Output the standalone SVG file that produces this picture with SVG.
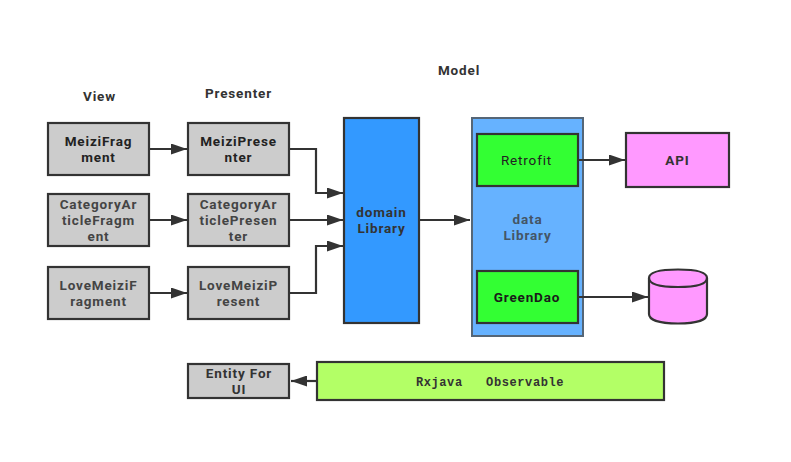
<svg xmlns="http://www.w3.org/2000/svg" width="791" height="462" viewBox="0 0 791 462">
<style>
text{font-family:Roboto,"Noto Sans",sans-serif;font-size:13.500px;font-weight:700;fill:#333;text-anchor:middle;letter-spacing:.85px}
.b{stroke:#333;stroke-width:2.200}
.g{fill:#ccc}
.c{fill:none;stroke:#333;stroke-width:2.200}
.k{fill:#222}
.m{fill:#444}
</style>
<defs><marker id="a" markerUnits="userSpaceOnUse" markerWidth="16" markerHeight="11" refX="16" refY="5.500" orient="auto"><path d="M0 0L16 5.500L0 11z" fill="#333"/></marker></defs>
<rect width="791" height="462" fill="#fff"/>
<text x="99.500" y="101">View</text>
<text x="238.500" y="98">Presenter</text>
<text x="459" y="75">Model</text>
<g id="n1"><rect class="b g" x="48" y="123" width="101" height="52"/><text class="k"><tspan x="98.500" y="146">MeiziFrag</tspan><tspan x="98.500" y="162">ment</tspan></text></g>
<g id="n2"><rect class="b g" x="188" y="123" width="101" height="52"/><text class="k"><tspan x="238.500" y="146">MeiziPrese</tspan><tspan x="238.500" y="162">nter</tspan></text></g>
<g id="n3"><rect class="b g" x="48" y="194" width="101" height="52"/><text class="m"><tspan x="98.500" y="209">CategoryAr</tspan><tspan x="98.500" y="225">ticleFragm</tspan><tspan x="98.500" y="241">ent</tspan></text></g>
<g id="n4"><rect class="b g" x="188" y="194" width="101" height="52"/><text class="m"><tspan x="238.500" y="209">CategoryAr</tspan><tspan x="238.500" y="225">ticlePresen</tspan><tspan x="238.500" y="241">ter</tspan></text></g>
<g id="n5"><rect class="b g" x="48" y="267" width="101" height="52"/><text class="m"><tspan x="98.500" y="290">LoveMeiziF</tspan><tspan x="98.500" y="306">ragment</tspan></text></g>
<g id="n6"><rect class="b g" x="188" y="267" width="101" height="52"/><text class="m"><tspan x="238.500" y="290">LoveMeiziP</tspan><tspan x="238.500" y="306">resent</tspan></text></g>
<g id="domain"><rect class="b" fill="#3399ff" x="344" y="118" width="75" height="205"/><text><tspan x="381.500" y="217">domain</tspan><tspan x="381.500" y="233">Library</tspan></text></g>
<g id="data"><rect fill="#66b2ff" stroke="#556677" stroke-width="2" x="472" y="118" width="111" height="218"/><text style="fill:#456"><tspan x="527.500" y="224">data</tspan><tspan x="527.500" y="240">Library</tspan></text></g>
<g id="retrofit"><rect class="b" fill="#33ff33" x="477" y="134" width="101" height="52"/><text x="526.500" y="165" style="font-weight:400;fill:#222">Retrofit</text></g>
<g id="greendao"><rect class="b" fill="#33ff33" x="477" y="271" width="101" height="52"/><text x="527" y="302" style="fill:#1a1a1a">GreenDao</text></g>
<g id="api"><rect class="b" fill="#ff99ff" x="626" y="133" width="103" height="54"/><text x="677.500" y="165">API</text></g>
<g id="db"><path class="b" fill="#ff99ff" d="M649 278V314C649 320 660 323.500 678 323.500S707 320 707 314V278C707 272 696 269.500 678 269.500S649 272 649 278Z"/><path class="c" d="M649 278C649 284 660 287 678 287S707 284 707 278"/></g>
<g id="entity"><rect class="b g" x="188" y="364" width="101" height="34"/><text><tspan x="239" y="378">Entity For</tspan><tspan x="239" y="394">UI</tspan></text></g>
<g id="rxjava"><rect class="b" fill="#b3ff66" x="317" y="362" width="347" height="38"/><text x="490" y="386" style="font-family:'Liberation Mono','DejaVu Sans Mono',monospace;font-size:12px;letter-spacing:.6px;white-space:pre" xml:space="preserve">Rxjava   Observable</text></g>
<g id="connectors">
<path class="c" marker-end="url(#a)" d="M149 149H187"/>
<path class="c" marker-end="url(#a)" d="M149 220H187"/>
<path class="c" marker-end="url(#a)" d="M149 293H187"/>
<path class="c" marker-end="url(#a)" d="M289 149H316V193H343"/>
<path class="c" marker-end="url(#a)" d="M289 220H343"/>
<path class="c" marker-end="url(#a)" d="M289 293H316V246H343"/>
<path class="c" marker-end="url(#a)" d="M419 220H470"/>
<path class="c" marker-end="url(#a)" d="M578 160H625"/>
<path class="c" marker-end="url(#a)" d="M578 297H648"/>
<path class="c" marker-end="url(#a)" d="M317 381H291"/>
</g>
</svg>
